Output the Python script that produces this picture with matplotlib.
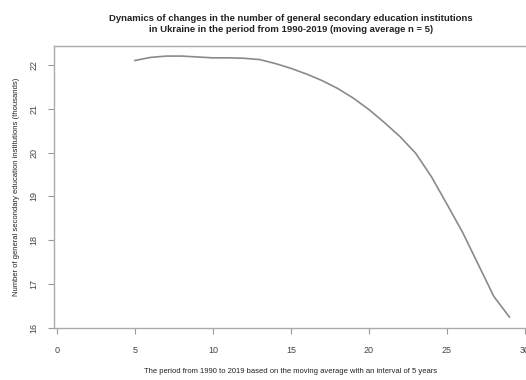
import numpy as np
import matplotlib
matplotlib.use("Agg")
import matplotlib.pyplot as plt

plt.rcParams['font.family'] = ['Liberation Sans', 'DejaVu Sans']

# moving average (n = 5) positions and values, thousands of institutions
period = [5, 6, 7, 8, 9, 10, 11, 12, 13, 14, 15, 16, 17, 18, 19, 20,
          21, 22, 23, 24, 25, 26, 27, 28, 29]
institutions = [22.10, 22.17, 22.20, 22.20, 22.18, 22.16, 22.16, 22.15,
                22.12, 22.03, 21.92, 21.79, 21.64, 21.46, 21.24, 20.98,
                20.68, 20.36, 19.98, 19.45, 18.82, 18.18, 17.45, 16.72,
                16.25]
xticks = [0, 5, 10, 15, 20, 25, 30]
yticks = [16, 17, 18, 19, 20, 21, 22]

W, H = 526, 380
fig = plt.figure(figsize=(W / 100, H / 100), dpi=100)
ax = fig.add_axes([54 / W, 1 - 328 / H, (528 - 54) / W, (328 - 46) / H])

ax.plot(period, institutions, color='#8a8a8a', lw=1.2)

ax.set_xlim(-0.19, 30.19)
ax.set_ylim(16, 22.43)
ax.set_xticks(xticks)
ax.set_yticks(yticks)
ax.set_xticklabels([str(t) for t in xticks], fontsize=6.5, color='#444444')
ax.set_yticklabels([str(t) for t in yticks], fontsize=6.5, color='#444444',
                   rotation=90, va='center')
ax.tick_params(axis='x', length=4, width=0.8, color='#999999', pad=9)
ax.tick_params(axis='y', length=4, width=0.8, color='#999999', pad=7)

for s in ax.spines.values():
    s.set_color('#aaaaaa')
    s.set_linewidth(1.0)

ax.set_xlabel('The period from 1990 to 2019 based on the moving average with an interval of 5 years',
              fontsize=5.5, color='#222222', labelpad=9)
ax.set_ylabel('Number of general secondary education institutions (thousands)',
              fontsize=5.5, color='#222222', labelpad=7)
ax.set_title('Dynamics of changes in the number of general secondary education institutions\n'
             'in Ukraine in the period from 1990-2019 (moving average n = 5)',
             fontsize=6.8, fontweight='bold', color='#222222', pad=10,
             linespacing=1.3)

fig.savefig('out.png', dpi=100)
